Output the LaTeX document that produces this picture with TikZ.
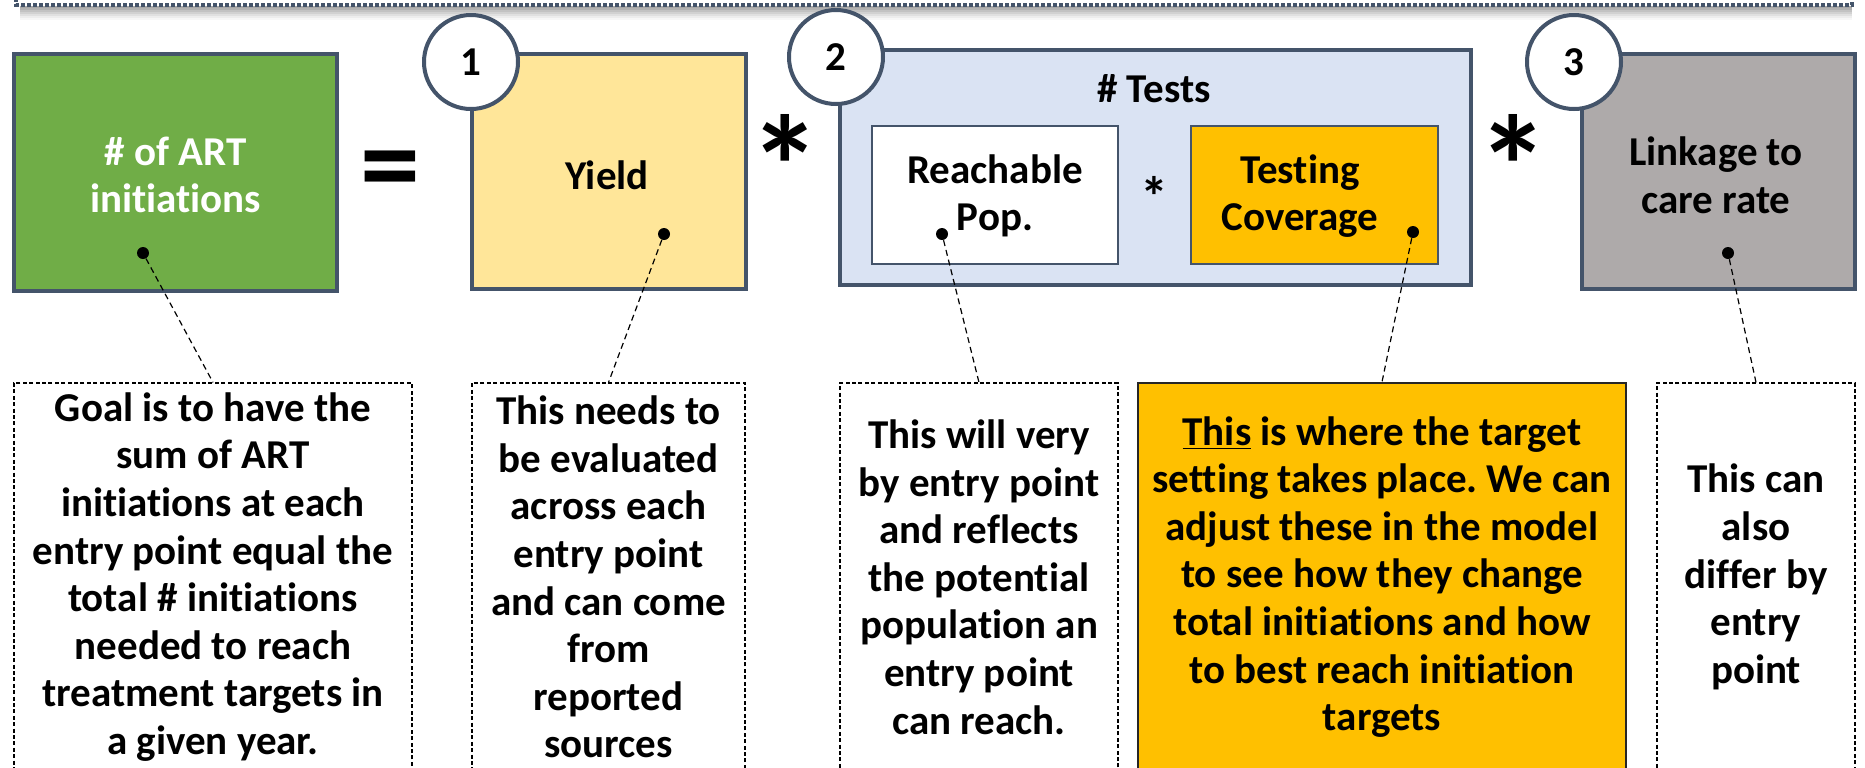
\documentclass[tikz,border=0pt]{standalone}
\usepackage{fontspec}
\setmainfont{Carlito}[Ligatures=NoCommon]
\frenchspacing
\definecolor{slate}{HTML}{44546A}
\definecolor{artgreen}{HTML}{70AD47}
\definecolor{yieldy}{HTML}{FFE699}
\definecolor{testblue}{HTML}{DAE3F3}
\definecolor{orangeg}{HTML}{FFC000}
\definecolor{linkgray}{HTML}{AEAAAA}
\tikzset{
  mainbox/.style={draw=slate, line width=2pt, inner sep=0pt},
  innerbox/.style={draw=slate, line width=1pt, inner sep=0pt},
  numcircle/.style={circle, draw=slate, line width=2pt, fill=white, minimum size=47pt, inner sep=0pt},
  notebox/.style={draw=black, line width=0.6pt, dash pattern=on 2pt off 1.2pt, inner sep=0pt, align=center, minimum height=194pt},
  dot/.style={circle, fill=black, inner sep=0pt, minimum size=6pt},
  conn/.style={draw=black, line width=0.6pt, dash pattern=on 3pt off 2pt},
  lbl/.style={align=center, inner sep=0pt},
  bigsym/.style={inner sep=0pt, font=\bfseries\fontsize{72}{74}\selectfont},
  eqsym/.style={inner sep=0pt, font=\bfseries\fontsize{60}{62}\selectfont}
}
\begin{document}
\begin{tikzpicture}[x=0.5pt,y=-0.5pt, font=\bfseries\fontsize{20.5}{23.8}\selectfont]
\path[use as bounding box, clip] (0,0) rectangle (1865,767);
\fill[white] (0,0) rectangle (1865,767);
% top dashed frame with shadow
\foreach \i/\o in {1/0.35,2/0.30,3/0.24,4/0.18,5/0.12,6/0.07,7/0.03}{
  \draw[black, opacity=\o, line width=1pt] (20,{5+2*\i}) -- (1852,{5+2*\i});
}
\coordinate (tl) at (16,-20);
\coordinate (tr) at (1852,-20);
\draw[slate, line width=1.8pt, dash pattern=on 2pt off 1pt] (tl) |- (1852,5) -- (tr);

% main boxes
\node[mainbox, fill=artgreen, minimum width=161.5pt, minimum height=118.5pt] (art) at (175.5,172.5) {};
\node[lbl, text=white] (artt) at (175.5,175) {\# of ART\\initiations};
\node[mainbox, fill=yieldy, minimum width=137pt, minimum height=117.5pt] (yield) at (609,171.5) {};
\node[lbl] (yieldt) at (607,175) {Yield};
\node[mainbox, fill=testblue, minimum width=315.5pt, minimum height=117.5pt] (tests) at (1155.5,167.5) {};
\node[lbl] (testst) at (1154,89) {\# Tests};
\node[innerbox, fill=white, minimum width=123pt, minimum height=69pt] (reach) at (995,195) {};
\node[lbl] (reacht) at (995,196) {Reachable\\Pop.};
\node[innerbox, fill=orangeg, minimum width=123.5pt, minimum height=69pt] (cov) at (1314.5,195) {};
\node[lbl] (covt) at (1300,196) {Testing\\Coverage};
\node[inner sep=0pt, font=\bfseries\fontsize{28}{30}\selectfont] (smallstar) at (1154,196) {*};
\node[mainbox, fill=linkgray, minimum width=136.5pt, minimum height=117.5pt] (link) at (1718.5,171.5) {};
\node[lbl] (linkt) at (1716,175) {Linkage to\\care rate};

% operators
\node[eqsym] (eq) at (390,178) {=};
\node[bigsym] (star1) at (785,166) {*};
\node[bigsym] (star2) at (1513,166) {*};

% number circles
\node[numcircle] (c1) at (471,62) {1};
\node[numcircle] (c2) at (836,57) {2};
\node[numcircle] (c3) at (1574,62) {3};

% dots
\node[dot] (d1) at (143,253) {};
\node[dot] (d2) at (664,234) {};
\node[dot] (d3) at (942,234) {};
\node[dot] (d4) at (1413,232) {};
\node[dot] (d5) at (1728,253) {};

% note boxes
\node[notebox, minimum width=199pt] (n1) at (213,577) {Goal is to have the\\sum of ART\\initiations at each\\entry point equal the\\total \# initiations\\needed to reach\\treatment targets in\\a given year.};
\node[notebox, minimum width=136.5pt] (n2) at (608.5,577) {This needs to\\be evaluated\\across each\\entry point\\and can come\\from\\reported\\sources};
\node[notebox, minimum width=139pt] (n3) at (979,577) {This will very\\by entry point\\and reflects\\the potential\\population an\\entry point\\can reach.};
\node[draw=black!85, line width=1pt, fill=orangeg, inner sep=0pt, align=center, minimum height=194pt, minimum width=244pt] (n4) at (1382,577) {\underline{This} is where the target\\setting takes place. We can\\adjust these in the model\\to see how they change\\total initiations and how\\to best reach initiation\\targets};
\node[notebox, minimum width=99pt] (n5) at (1756,577) {This can\\also\\differ by\\entry\\point};

% connectors
\draw[conn] (d1) -- (n1.north);
\draw[conn] (d2) -- (n2.north);
\draw[conn] (d3) -- (n3.north);
\draw[conn] (d4) -- (n4.north);
\draw[conn] (d5) -- (n5.north);
\end{tikzpicture}
\end{document}
